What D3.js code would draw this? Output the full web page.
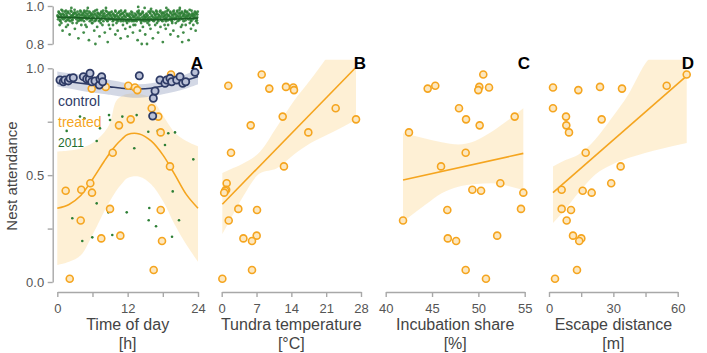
<!DOCTYPE html>
<html><head><meta charset="utf-8">
<script src="https://cdn.jsdelivr.net/npm/d3@7"></script>
<style>
body{margin:0;background:#fff}
svg{display:block;font-family:"Liberation Sans",Arial,Helvetica,sans-serif}
</style>
</head><body>
<svg id="c" width="707" height="353"></svg>
<script>
// ---------------- DATA ----------------
// treated nests: nest attendance (sorted) and the predictor value of the same nest in each panel
const attendance = [0.971,0.918,0.913,0.910,0.905,0.898,0.813,0.774,0.761,0.733,0.700,0.605,0.541,0.462,0.432,0.427,0.418,0.342,0.337,0.288,0.217,0.204,0.192,0.056,0.015];
const timeOfDay = [19.4,12.11,8.26,13.25,5.87,13.65,16.1,17.23,12.52,10.52,17.64,9.45,19.22,5.63,4.09,1.43,5.92,8.99,17.64,3.99,10.75,7.5,17.86,16.44,2.12];
const tundraTemp = [8.04,1.33,12.92,14.4,9.57,14.53,22.91,12.26,27.0,5.83,17.41,1.87,12.51,1.0,0.9,0.7,0.5,3.34,7.1,1.41,7.03,4.36,6.09,6.09,0.13];
const incubationShare = [50.53,45.35,50.1,51.15,44.53,49.99,47.91,53.92,48.67,50.14,42.51,48.63,45.97,52.37,49.35,50.29,54.85,54.6,46.65,41.87,52.03,46.7,47.6,48.63,50.82];
const escapeDistance = [64.2,54.87,23.78,1.86,34.03,13.67,1.86,7.93,24.55,8.07,9.32,17.1,33.4,29.0,5.9,15.7,19.9,5.9,10.26,8.24,11.19,15.07,14.1,13.05,2.8];

// control nests (panel A)
const controlHour = [0.46,1.02,1.31,1.88,2.17,2.73,4.44,5.02,5.46,5.58,5.87,6.43,7.16,7.28,7.57,7.74,13.99,16.38,16.67,16.27,17.52,18.37,18.66,19.22,19.51,20.37,20.93,21.39,21.9,23.49];
const controlAttendance = [0.945,0.937,0.945,0.941,0.953,0.956,0.961,0.950,0.950,0.977,0.937,0.941,0.922,0.950,0.961,0.937,0.965,0.860,0.894,0.777,0.945,0.930,0.945,0.953,0.937,0.945,0.961,0.930,0.937,0.981];

// 2011 nests in panel A (small dots)
const hour2011 = [3.87,4.61,8.82,11.09,8.99,7.28,6.72,1.60,13.54,13.13,15.52,17.13,18.93,20.08,18.37,23.2,6.72,2.56,4.26,5.97,9.38,8.7,11.84,15.69,15.59,16.84,19.69,20.76,19.57];
const attendance2011 = [0.774,0.766,0.781,0.774,0.758,0.719,0.660,0.707,0.781,0.626,0.703,0.707,0.696,0.700,0.641,0.574,0.368,0.298,0.192,0.209,0.220,0.326,0.326,0.346,0.289,0.261,0.424,0.289,0.212];

// model fits in panel A
const fitHour = [0,2,4,6,8,9,10,11,12,14,16,18,20,22,24];
const treatedFit = [0.345,0.363,0.405,0.48,0.565,0.605,0.64,0.668,0.69,0.693,0.66,0.595,0.505,0.41,0.345];
const treatedLo  = [0.08,0.095,0.125,0.22,0.33,0.38,0.425,0.46,0.487,0.493,0.458,0.38,0.27,0.175,0.095];
const treatedHi  = [0.61,0.615,0.625,0.65,0.70,0.745,0.845,0.87,0.88,0.88,0.86,0.78,0.70,0.66,0.635];
const controlFit = [0.945,0.937,0.93,0.924,0.917,0.913,0.91,0.907,0.905,0.903,0.907,0.917,0.93,0.945,0.962];
const controlLo  = [0.915,0.905,0.895,0.887,0.88,0.876,0.872,0.868,0.865,0.862,0.868,0.878,0.89,0.905,0.925];
const controlHi  = [0.985,0.977,0.97,0.96,0.95,0.945,0.94,0.935,0.93,0.925,0.93,0.94,0.955,0.972,0.995];

// linear fits in panels B-D: [x, fit] end points and confidence bands
const tempFitX = [0.13,27.0], tempFit = [0.364,1.005];
const tempBandX  = [0.13,1.67,4.3,7.7,11.1,14.4,17.8,21.1,24.4,27.0];
const tempBandLo = [0.225,0.29,0.40,0.509,0.532,0.594,0.649,0.688,0.727,0.758];
const tempBandHi = [0.51,0.527,0.555,0.61,0.727,0.844,0.945,1.05,1.17,1.26];
const shareFitX = [41.87,54.85], shareFit = [0.477,0.602];
const shareBandX  = [41.87,44.24,46.04,47.83,49.64,51.44,53.23,54.85];
const shareBandLo = [0.282,0.36,0.415,0.446,0.459,0.462,0.449,0.43];
const shareBandHi = [0.696,0.672,0.654,0.644,0.66,0.703,0.758,0.813];
const escFitX = [1.86,64.2], escFit = [0.418,0.965];
const escBandX  = [1.86,7.46,13.66,21.45,29.23,36.97,44.76,52.5,64.2];
const escBandLo = [0.276,0.338,0.416,0.502,0.549,0.58,0.604,0.624,0.65];
const escBandHi = [0.541,0.57,0.596,0.666,0.767,0.877,1.02,1.106,1.28];

// inset: 2011 nest attendance by time of day [hour, attendance]
const inset2011 = [
[0.05,.95],[0.14,.93],[0.23,.97],[0.33,.94],[0.41,.96],[0.52,.92],[0.6,.95],[0.71,.98],[0.8,.94],[0.9,.96],
[1.03,.93],[1.12,.95],[1.25,.97],[1.31,.94],[1.44,.92],[1.5,.96],[1.63,.95],[1.72,.93],[1.84,.97],[1.93,.94],
[2.07,.96],[2.16,.94],[2.22,.92],[2.35,.95],[2.43,.97],[2.55,.93],[2.61,.95],[2.74,.96],[2.82,.94],[2.95,.98],
[3.02,.94],[3.11,.96],[3.27,.93],[3.36,.95],[3.45,.97],[3.53,.92],[3.66,.94],[3.75,.96],[3.87,.95],[3.96,.93],
[4.04,.97],[4.18,.95],[4.26,.93],[4.32,.96],[4.47,.94],[4.56,.92],[4.62,.95],[4.77,.97],[4.85,.94],[4.91,.96],
[5.06,.93],[5.15,.95],[5.21,.96],[5.38,.94],[5.46,.97],[5.54,.92],[5.67,.95],[5.73,.93],[5.88,.96],[5.97,.94],
[6.01,.95],[6.17,.97],[6.24,.94],[6.36,.92],[6.42,.96],[6.58,.93],[6.64,.95],[6.76,.98],[6.83,.94],[6.94,.96],
[7.08,.94],[7.13,.92],[7.27,.96],[7.34,.95],[7.48,.93],[7.51,.97],[7.69,.94],[7.72,.95],[7.86,.92],[7.92,.96],
[8.03,.96],[8.19,.94],[8.25,.93],[8.37,.95],[8.44,.97],[8.57,.92],[8.63,.94],[8.78,.96],[8.81,.93],[8.97,.95],
[9.05,.93],[9.14,.95],[9.28,.97],[9.33,.94],[9.46,.92],[9.55,.96],[9.62,.93],[9.74,.95],[9.89,.94],[9.93,.97],
[10.02,.95],[10.16,.93],[10.24,.96],[10.35,.92],[10.43,.94],[10.58,.97],[10.66,.93],[10.71,.95],[10.85,.92],[10.94,.96],
[11.07,.94],[11.12,.96],[11.26,.92],[11.38,.95],[11.41,.93],[11.53,.97],[11.68,.94],[11.77,.92],[11.83,.96],[11.96,.95],
[12.04,.93],[12.15,.95],[12.27,.92],[12.31,.96],[12.45,.94],[12.56,.93],[12.63,.97],[12.72,.92],[12.88,.95],[12.91,.94],
[13.06,.92],[13.18,.94],[13.22,.96],[13.37,.93],[13.44,.95],[13.52,.92],[13.65,.97],[13.76,.94],[13.84,.93],[13.95,.96],
[14.03,.95],[14.11,.93],[14.26,.92],[14.34,.96],[14.47,.94],[14.55,.97],[14.61,.93],[14.78,.95],[14.82,.92],[14.97,.94],
[15.05,.94],[15.17,.92],[15.23,.96],[15.36,.93],[15.42,.95],[15.57,.97],[15.64,.92],[15.73,.94],[15.86,.96],[15.91,.93],
[16.08,.93],[16.13,.95],[16.25,.97],[16.38,.94],[16.46,.92],[16.51,.96],[16.67,.95],[16.74,.93],[16.85,.94],[16.96,.97],
[17.02,.96],[17.16,.94],[17.21,.92],[17.33,.95],[17.48,.97],[17.54,.93],[17.62,.94],[17.77,.96],[17.83,.95],[17.94,.92],
[18.07,.94],[18.14,.96],[18.28,.93],[18.32,.95],[18.45,.97],[18.53,.92],[18.66,.94],[18.71,.96],[18.87,.95],[18.92,.98],
[19.04,.95],[19.18,.93],[19.26,.97],[19.35,.94],[19.43,.96],[19.57,.92],[19.61,.95],[19.75,.97],[19.84,.94],[19.98,.96],
[20.01,.93],[20.15,.96],[20.23,.94],[20.37,.95],[20.44,.97],[20.52,.92],[20.68,.96],[20.73,.94],[20.86,.98],[20.95,.95],
[21.06,.96],[21.12,.94],[21.27,.97],[21.34,.93],[21.48,.95],[21.55,.92],[21.63,.96],[21.76,.94],[21.81,.97],[21.93,.95],
[22.03,.94],[22.17,.97],[22.24,.95],[22.36,.93],[22.42,.96],[22.58,.98],[22.65,.94],[22.77,.95],[22.84,.92],[22.97,.96],
[23.05,.95],[23.13,.93],[23.22,.96],[23.38,.94],[23.46,.97],[23.51,.95],[23.67,.92],[23.74,.96],[23.86,.94],[23.95,.97],
[0.09,.945],[0.27,.965],[0.48,.925],[0.59,.955],[0.79,.935],[0.87,.975],
[1.08,.955],[1.28,.935],[1.47,.975],[1.58,.945],[1.77,.965],[1.88,.925],
[2.1,.935],[2.29,.975],[2.49,.945],[2.57,.925],[2.78,.955],[2.89,.965],
[3.07,.965],[3.26,.945],[3.47,.955],[3.6,.935],[3.8,.925],[3.91,.975],
[4.1,.925],[4.28,.955],[4.5,.965],[4.59,.975],[4.8,.945],[4.88,.935],
[5.09,.975],[5.27,.935],[5.49,.945],[5.6,.965],[5.79,.955],[5.9,.925],
[6.08,.935],[6.29,.955],[6.47,.975],[6.61,.925],[6.78,.945],[6.87,.965],
[7.1,.955],[7.26,.925],[7.5,.935],[7.57,.965],[7.8,.975],[7.89,.945],
[8.09,.945],[8.28,.975],[8.48,.925],[8.6,.955],[8.79,.965],[8.88,.935],
[9.08,.965],[9.27,.935],[9.5,.955],[9.58,.925],[9.77,.945],[9.9,.975],
[10.1,.925],[10.29,.945],[10.47,.965],[10.6,.935],[10.8,.955],[10.87,.975],
[11.09,.935],[11.28,.965],[11.49,.945],[11.59,.975],[11.78,.925],[11.88,.955],
[12.08,.925],[12.27,.945],[12.5,.935],[12.6,.955],[12.79,.965],[12.87,.925],
[13.1,.945],[13.29,.925],[13.47,.955],[13.58,.935],[13.8,.965],[13.9,.975],
[14.09,.935],[14.26,.955],[14.48,.925],[14.6,.965],[14.77,.945],[14.88,.935],
[15.08,.955],[15.29,.945],[15.5,.935],[15.57,.925],[15.79,.965],[15.9,.975],
[16.1,.945],[16.27,.925],[16.49,.965],[16.59,.935],[16.8,.955],[16.87,.975],
[17.08,.935],[17.28,.955],[17.47,.945],[17.6,.975],[17.78,.925],[17.89,.965],
[18.1,.965],[18.26,.945],[18.5,.935],[18.58,.955],[18.79,.975],[18.88,.925],
[19.09,.945],[19.28,.965],[19.48,.925],[19.6,.935],[19.77,.955],[19.9,.975],
[20.08,.955],[20.27,.935],[20.49,.975],[20.58,.945],[20.8,.925],[20.89,.965],
[21.1,.935],[21.29,.965],[21.47,.945],[21.6,.955],[21.79,.975],[21.87,.925],
[22.09,.965],[22.26,.945],[22.5,.955],[22.59,.935],[22.78,.925],[22.9,.975],
[23.08,.945],[23.27,.955],[23.49,.935],[23.6,.965],[23.8,.925],[23.89,.955],
[0.4,.90],[0.9,.87],[1.5,.89],[2.1,.85],[2.6,.91],[3.0,.88],[3.6,.83],[4.1,.90],[4.5,.86],[5.0,.89],[5.4,.82],[5.9,.91],
[6.3,.87],[6.8,.89],[7.2,.84],[7.7,.90],[8.1,.86],[8.6,.81],[9.0,.88],[9.5,.90],[9.9,.85],[10.3,.87],[10.8,.83],[11.2,.90],
[11.6,.88],[12.0,.84],[12.4,.89],[12.9,.86],[13.3,.90],[13.7,.82],[14.1,.87],[14.6,.89],[15.0,.85],[15.4,.91],[15.9,.88],
[16.3,.83],[16.7,.90],[17.2,.86],[17.6,.89],[18.0,.81],[18.5,.88],[18.9,.90],[19.3,.85],[19.8,.87],[20.2,.91],[20.6,.84],
[21.1,.89],[21.5,.86],[21.9,.90],[22.4,.82],[22.8,.88],[23.2,.90],[23.6,.87],
[0.7,.91],[1.8,.90],[3.3,.91],[4.8,.90],[6.0,.91],[7.4,.91],[8.8,.90],[10.1,.91],[11.9,.91],[13.0,.90],[14.3,.91],
[15.7,.90],[17.0,.91],[18.3,.90],[19.6,.91],[21.3,.90],[22.6,.91],[23.9,.91],
[6.5,.80],[14.4,.80],[15.3,.80],[21.3,.81],
[5.2,.99],[8.3,.99],[13.8,.995],[14.9,.99],[18.6,.99],[16.0,.985],[2.4,.99],[20.9,.99]
];
const insetFitHour = [0,4,8,12,16,20,24];
const insetFit = [0.941,0.938,0.933,0.928,0.928,0.931,0.936];

// axis ticks
const yTicks = [0,0.25,0.5,0.75,1], yLabels = [0,0.5,1];
const insetTicks = [0.8,1.0];

// ---------------- DRAW ----------------
const ORANGE="#F5A51F", ORANGE_FILL="#FCE7BF", BAND="rgba(253,226,172,0.5)";
const NAVY="#2E3B66", NAVY_FILL="#BAC1D7", NAVY_BAND="rgba(140,152,186,0.38)";
const GREEN="#2D7F35", DKGREEN="#1E6B2E", AXIS="#A8A8A8", TXT="#555";
const svg=d3.select("#c");
const y=d3.scaleLinear([0,1],[282,68.3]);
const yInset=d3.scaleLinear([0.8,1.0],[44,6]);

const panels=[
 {key:"A",x:d3.scaleLinear([0,24],[57.3,198]),ticks:[0,6,12,18,24],labels:[0,12,24],title:"Time of day",unit:"[h]",xs:timeOfDay,right:203},
 {key:"B",x:d3.scaleLinear([0,28],[221.7,361]),ticks:[0,7,14,21,28],labels:[0,7,14,21,28],title:"Tundra temperature",unit:"[°C]",xs:tundraTemp,right:366,
   fitX:tempFitX,fit:tempFit,bx:tempBandX,blo:tempBandLo,bhi:tempBandHi},
 {key:"C",x:d3.scaleLinear([40,55],[385.7,524.7]),ticks:[40,45,50,55],labels:[40,45,50,55],title:"Incubation share",unit:"[%]",xs:incubationShare,right:530,
   fitX:shareFitX,fit:shareFit,bx:shareBandX,blo:shareBandLo,bhi:shareBandHi},
 {key:"D",x:d3.scaleLinear([0,60],[549,677.7]),ticks:[0,15,30,45,60],labels:[0,30,60],title:"Escape distance",unit:"[m]",xs:escapeDistance,right:694,
   fitX:escFitX,fit:escFit,bx:escBandX,blo:escBandLo,bhi:escBandHi}
];

const defs=svg.append("defs");
defs.append("clipPath").attr("id","plotclip").append("rect")
  .attr("x",0).attr("width",707).attr("y",y(1.04)).attr("height",y(-0.04)-y(1.04));

function styleAxis(g){
  g.select(".domain").attr("stroke",AXIS).attr("stroke-width",1.4);
  g.selectAll(".tick line").attr("stroke",AXIS).attr("stroke-width",1.4);
  g.selectAll(".tick text").attr("fill",TXT).style("font-size","13px").attr("font-family",null);
}

panels.forEach(p=>{
  const x=p.x;
  const layer=svg.append("g");
  const clipped=layer.append("g").attr("clip-path","url(#plotclip)");
  if(p.key==="A"){
    const aT=d3.area().x((d,i)=>x(fitHour[i])).y0((d,i)=>y(treatedLo[i])).y1((d,i)=>y(treatedHi[i])).curve(d3.curveCatmullRom);
    clipped.append("path").attr("d",aT(fitHour)).attr("fill",BAND);
    const aC=d3.area().x((d,i)=>x(fitHour[i])).y0((d,i)=>y(controlLo[i])).y1((d,i)=>y(controlHi[i])).curve(d3.curveCatmullRom);
    clipped.append("path").attr("d",aC(fitHour)).attr("fill",NAVY_BAND);
    layer.append("g").selectAll("circle").data(hour2011).join("circle")
      .attr("cx",(d)=>x(d)).attr("cy",(d,i)=>y(attendance2011[i])).attr("r",1.3).attr("fill",GREEN);
    const lT=d3.line().x((d,i)=>x(fitHour[i])).y((d,i)=>y(treatedFit[i])).curve(d3.curveCatmullRom);
    layer.append("path").attr("d",lT(fitHour)).attr("fill","none").attr("stroke",ORANGE).attr("stroke-width",1.6);
    const lC=d3.line().x((d,i)=>x(fitHour[i])).y((d,i)=>y(controlFit[i])).curve(d3.curveCatmullRom);
    layer.append("path").attr("d",lC(fitHour)).attr("fill","none").attr("stroke",NAVY).attr("stroke-width",1.6);
  } else {
    const a=d3.area().x((d,i)=>x(p.bx[i])).y0((d,i)=>y(p.blo[i])).y1((d,i)=>y(p.bhi[i])).curve(d3.curveMonotoneX);
    clipped.append("path").attr("d",a(p.bx)).attr("fill",BAND);
    const l=d3.line().x((d,i)=>x(p.fitX[i])).y((d,i)=>y(p.fit[i]));
    layer.append("path").attr("d",l(p.fitX)).attr("fill","none").attr("stroke",ORANGE).attr("stroke-width",1.6);
  }
  layer.append("g").selectAll("circle").data(p.xs).join("circle")
    .attr("cx",d=>x(d)).attr("cy",(d,i)=>y(attendance[i])).attr("r",3.5)
    .attr("fill",ORANGE_FILL).attr("stroke",ORANGE).attr("stroke-width",1.6);
  if(p.key==="A"){
    layer.append("g").selectAll("circle").data(controlHour).join("circle")
      .attr("cx",d=>x(d)).attr("cy",(d,i)=>y(controlAttendance[i])).attr("r",3.6)
      .attr("fill",NAVY_FILL).attr("stroke",NAVY).attr("stroke-width",1.8);
  }
  // x axis
  const ax=svg.append("g").attr("transform","translate(0,292)")
    .call(d3.axisBottom(x).tickValues(p.ticks).tickFormat(d=>p.labels.includes(d)?d:"").tickSize(5).tickSizeOuter(0));
  styleAxis(ax);
  ax.selectAll(".tick text").attr("y",21).attr("dy",null);
  const cx=(x.range()[0]+x.range()[1])/2;
  svg.append("text").attr("x",cx).attr("y",330).attr("text-anchor","middle")
    .attr("fill","#444").style("font-size","16px").text(p.title);
  svg.append("text").attr("x",cx).attr("y",348.5).attr("text-anchor","middle")
    .attr("fill","#444").style("font-size","16px").text(p.unit);
  // panel letter
  svg.append("text").attr("x",p.right).attr("y",69).attr("text-anchor","end")
    .attr("font-weight","bold").style("font-size","17px").attr("fill","#000").text(p.key);
});

// main y axis
const yax=svg.append("g").attr("transform","translate(52.7,0)")
  .call(d3.axisLeft(y).tickValues(yTicks).tickFormat(d=>yLabels.includes(d)?d3.format(".1f")(d):"").tickSize(5).tickSizeOuter(0).tickPadding(3.5));
styleAxis(yax);
svg.append("text").attr("transform","translate(17,176) rotate(-90)").attr("text-anchor","middle")
  .attr("fill","#444").style("font-size","15px").text("Nest attendance");

// legend in panel A
svg.append("text").attr("x",58).attr("y",106).attr("fill",NAVY).style("font-size","14px").text("control");
svg.append("text").attr("x",58).attr("y",126.5).attr("fill",ORANGE).style("font-size","14px").text("treated");
svg.append("text").attr("x",58).attr("y",147).attr("fill",DKGREEN).style("font-size","12px").text("2011");

// inset
const xA=panels[0].x;
svg.append("g").selectAll("circle").data(inset2011).join("circle")
  .attr("cx",d=>xA(d[0])).attr("cy",d=>yInset(d[1])).attr("r",1.4).attr("fill",GREEN).attr("fill-opacity",0.9);
const lI=d3.line().x((d,i)=>xA(insetFitHour[i])).y((d,i)=>yInset(insetFit[i])).curve(d3.curveCatmullRom);
svg.append("path").attr("d",lI(insetFitHour)).attr("fill","none").attr("stroke","#1B5E24").attr("stroke-width",1.7);
const iax=svg.append("g").attr("transform","translate(52.7,0)")
  .call(d3.axisLeft(yInset).tickValues(insetTicks).tickFormat(d3.format(".1f")).tickSize(5).tickSizeOuter(0).tickPadding(3.5));
styleAxis(iax);
</script>
</body></html>
